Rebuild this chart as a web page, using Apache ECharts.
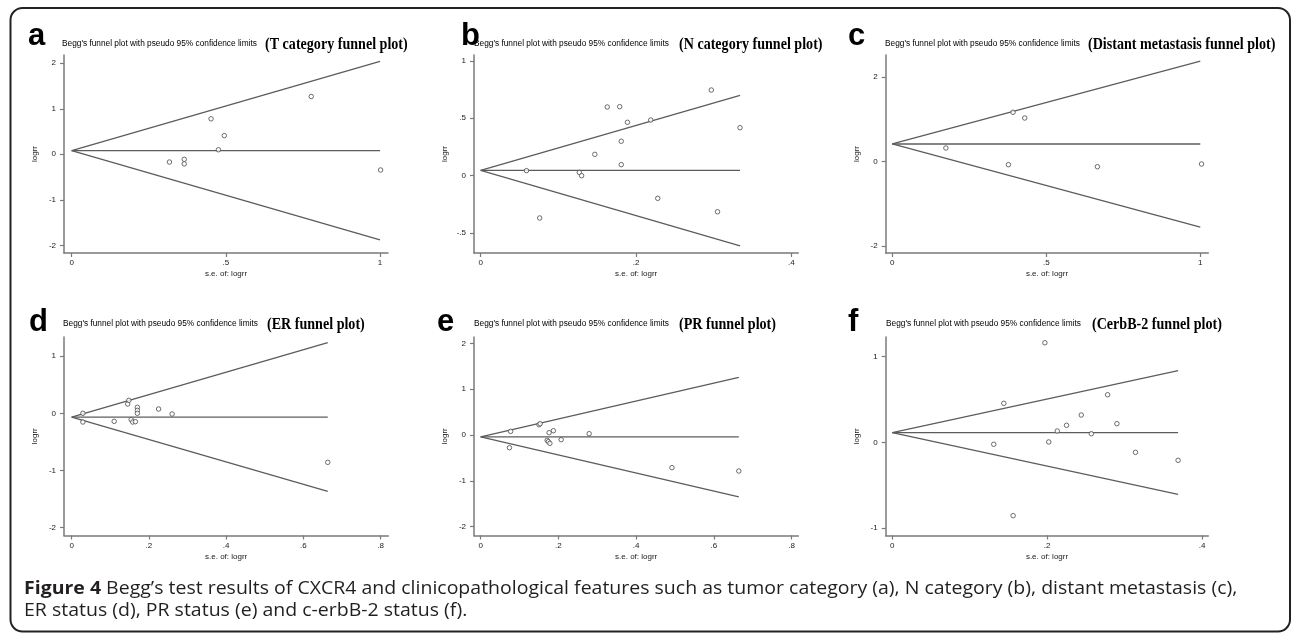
<!DOCTYPE html>
<html><head><meta charset="utf-8">
<script src="https://cdn.jsdelivr.net/npm/echarts@6/dist/echarts.min.js"></script>
<style>html,body{margin:0;padding:0;background:#fff}#c{width:1292px;height:634px}</style>
</head><body><div id="c"></div>
<script>
// ---------- DATA ----------
const panelLetters = ['a', 'b', 'c', 'd', 'e', 'f'];
const subTitle = "Begg's funnel plot with pseudo 95% confidence limits";
const panelTitles = ['(T category funnel plot)', '(N category funnel plot)', '(Distant metastasis funnel plot)',
                     '(ER funnel plot)', '(PR funnel plot)', '(CerbB-2 funnel plot)'];
const xAxisName = 's.e. of: logrr';
const yAxisName = 'logrr';
const captionBold = 'Figure 4';
const captionLine1 = ' Begg\u2019s test results of CXCR4 and clinicopathological features such as tumor category (a), N category (b), distant metastasis (c),';
const captionLine2 = 'ER status (d), PR status (e) and c-erbB-2 status (f).';

// study points: standard error and log risk ratio
const seA = [0.317, 0.365, 0.365, 0.452, 0.476, 0.495, 0.777, 1.002];
const logrrA = [-0.17, -0.11, -0.21, 0.78, 0.10, 0.41, 1.27, -0.345];
const seB = [0.059, 0.076, 0.127, 0.130, 0.147, 0.163, 0.179, 0.181, 0.181, 0.189, 0.219, 0.228, 0.297, 0.305, 0.334];
const logrrB = [0.044, -0.368, 0.029, 0.0, 0.186, 0.598, 0.601, 0.30, 0.096, 0.465, 0.485, -0.197, 0.746, -0.314, 0.418];
const seC = [0.174, 0.377, 0.392, 0.430, 0.666, 1.004];
const logrrC = [0.315, -0.08, 1.16, 1.025, -0.128, -0.064];
const seD = [0.029, 0.029, 0.110, 0.145, 0.148, 0.154, 0.158, 0.165, 0.170, 0.170, 0.170, 0.225, 0.260, 0.663];
const logrrD = [0.0, -0.152, -0.14, 0.163, 0.227, -0.11, -0.152, -0.146, 0.105, 0.052, 0.0, 0.075, -0.012, -0.857];
const seE = [0.074, 0.077, 0.150, 0.153, 0.176, 0.187, 0.171, 0.174, 0.178, 0.207, 0.279, 0.492, 0.664];
const logrrE = [-0.277, 0.08, 0.225, 0.247, 0.051, 0.094, -0.116, -0.146, -0.182, -0.102, 0.029, -0.713, -0.786];
const seF = [0.131, 0.144, 0.156, 0.197, 0.202, 0.213, 0.225, 0.244, 0.257, 0.278, 0.290, 0.314, 0.369];
const logrrF = [-0.023, 0.454, -0.855, 1.16, 0.004, 0.132, 0.198, 0.318, 0.100, 0.554, 0.217, -0.117, -0.21];

// funnel (pooled estimate and pseudo 95% limits at the largest s.e.)
const pooledLogrr = [0.08, 0.047, 0.41, -0.065, -0.04, 0.112];
const funnelSeMax = [1.0, 0.334, 1.0, 0.663, 0.664, 0.369];
const upperLimitEnd = [2.04, 0.70, 2.37, 1.234, 1.26, 0.834];
const lowerLimitEnd = [-1.88, -0.61, -1.56, -1.364, -1.35, -0.606];

// tick values
const xTicks = [[0, 0.5, 1], [0, 0.2, 0.4], [0, 0.5, 1], [0, 0.2, 0.4, 0.6, 0.8], [0, 0.2, 0.4, 0.6, 0.8], [0, 0.2, 0.4]];
const yTicks = [[-2, -1, 0, 1, 2], [-0.5, 0, 0.5, 1], [-2, 0, 2], [-2, -1, 0, 1], [-2, -1, 0, 1, 2], [-1, 0, 1]];

// ---------- LAYOUT ----------
const seAll = [seA, seB, seC, seD, seE, seF];
const logrrAll = [logrrA, logrrB, logrrC, logrrD, logrrE, logrrF];
const layout = [
  {left: 64,    top: 55,  width: 324,   height: 198,   xMin: -0.025,  xMax: 1.026, yMin: -2.169, yMax: 2.182, lx: 28,  sx: 62,  bx: 265,  ty: 44},
  {left: 474,   top: 55,  width: 324.3, height: 198,   xMin: -0.0086, xMax: 0.409, yMin: -0.673, yMax: 1.051, lx: 461, sx: 474, bx: 679,  ty: 44},
  {left: 885.7, top: 55,  width: 322.6, height: 198,   xMin: -0.0214, xMax: 1.026, yMin: -2.170, yMax: 2.516, lx: 848, sx: 885, bx: 1088, ty: 44},
  {left: 64,    top: 337, width: 324.3, height: 198.5, xMin: -0.0199, xMax: 0.8197, yMin: -2.136, yMax: 1.334, lx: 29, sx: 63,  bx: 267,  ty: 324},
  {left: 474,   top: 337, width: 324.3, height: 198.5, xMin: -0.0172, xMax: 0.817, yMin: -2.194, yMax: 2.140, lx: 437, sx: 474, bx: 679,  ty: 324},
  {left: 885.7, top: 337, width: 322.6, height: 198.5, xMin: -0.0085, xMax: 0.408, yMin: -1.086, yMax: 1.227, lx: 848, sx: 886, bx: 1092, ty: 324}
];
const letterY = [36, 36, 36, 322, 322, 322];

const axisColor = '#7a7a7a';
const textColor = '#1a1a1a';
const sansFont = "'Liberation Sans', Arial, sans-serif";
const fmt = v => String(+(+v).toFixed(3)).replace(/^(-?)0\./, '$1.');

const grid = [], xAxis = [], yAxis = [], series = [], graphic = [];

graphic.push({
  type: 'rect', silent: true,
  shape: {x: 10.5, y: 8, width: 1279.5, height: 623.5, r: 12},
  style: {fill: 'none', stroke: '#222', lineWidth: 2}
});

layout.forEach((L, i) => {
  grid.push({left: L.left, top: L.top, width: L.width, height: L.height, containLabel: false});
  xAxis.push({
    type: 'value', gridIndex: i, min: L.xMin, max: L.xMax,
    axisLine: {show: true, onZero: false, lineStyle: {color: axisColor, width: 1.5}},
    axisTick: {show: true, length: 4, lineStyle: {color: axisColor, width: 1.2}, customValues: xTicks[i]},
    axisLabel: {show: true, margin: 6, fontSize: 8, fontFamily: sansFont, color: textColor, customValues: xTicks[i], formatter: fmt},
    splitLine: {show: false},
    name: xAxisName, nameLocation: 'middle', nameGap: 17,
    nameTextStyle: {fontSize: 8, fontFamily: sansFont, color: textColor}
  });
  yAxis.push({
    type: 'value', gridIndex: i, min: L.yMin, max: L.yMax,
    axisLine: {show: true, onZero: false, lineStyle: {color: axisColor, width: 1.5}},
    axisTick: {show: true, length: 4, lineStyle: {color: axisColor, width: 1.2}, customValues: yTicks[i]},
    axisLabel: {show: true, margin: 8, fontSize: 8, fontFamily: sansFont, color: textColor, customValues: yTicks[i], formatter: fmt},
    splitLine: {show: false},
    name: yAxisName, nameLocation: 'middle', nameGap: 25, nameRotate: 90,
    nameTextStyle: {fontSize: 8, fontFamily: sansFont, color: textColor}
  });
  const lineStyle = {color: '#5c5c5c', width: 1.3};
  const mk = (data) => ({type: 'line', xAxisIndex: i, yAxisIndex: i, data, showSymbol: false, symbol: 'none',
                         lineStyle, silent: true, z: 2});
  series.push(mk([[0, pooledLogrr[i]], [funnelSeMax[i], pooledLogrr[i]]]));
  series.push(mk([[0, pooledLogrr[i]], [funnelSeMax[i], upperLimitEnd[i]]]));
  series.push(mk([[0, pooledLogrr[i]], [funnelSeMax[i], lowerLimitEnd[i]]]));
  series.push({
    type: 'scatter', xAxisIndex: i, yAxisIndex: i, z: 3,
    data: seAll[i].map((s, k) => [s, logrrAll[i][k]]),
    symbol: 'circle', symbolSize: 4.5,
    itemStyle: {color: '#ffffff', borderColor: '#4a4a4a', borderWidth: 1}
  });
  graphic.push({type: 'text', silent: true, x: L.lx, y: letterY[i],
    style: {text: panelLetters[i], fill: '#000', font: "bold 31px 'Liberation Sans', Arial, sans-serif", textAlign: 'left', textVerticalAlign: 'middle'}});
  graphic.push({type: 'text', silent: true, x: L.sx, y: L.ty,
    style: {text: subTitle, fill: '#000', font: "8.3px 'Liberation Sans', Arial, sans-serif", textAlign: 'left', textVerticalAlign: 'middle'}});
  graphic.push({type: 'text', silent: true, x: L.bx, y: L.ty + 1, scaleX: 0.88,
    style: {text: panelTitles[i], fill: '#000', font: "bold 16px 'Liberation Serif', 'Times New Roman', serif", textAlign: 'left', textVerticalAlign: 'middle'}});
});

graphic.push({type: 'text', silent: true, x: 24, y: 589, scaleX: 1.083,
  style: {text: '{b|' + captionBold + '}' + captionLine1, fill: '#231f20',
    font: "18px 'Open Sans', sans-serif", textAlign: 'left', textVerticalAlign: 'middle',
    rich: {b: {fontWeight: 'bold', fontFamily: 'Open Sans', fontSize: 18, fill: '#231f20'}}}});
graphic.push({type: 'text', silent: true, x: 24, y: 611, scaleX: 1.083,
  style: {text: captionLine2, fill: '#231f20', font: "18px 'Open Sans', sans-serif", textAlign: 'left', textVerticalAlign: 'middle'}});

const chart = echarts.init(document.getElementById('c'), null, {renderer: 'canvas'});
chart.setOption({animation: false, backgroundColor: '#fff', grid, xAxis, yAxis, series, graphic});
</script>
</body></html>
